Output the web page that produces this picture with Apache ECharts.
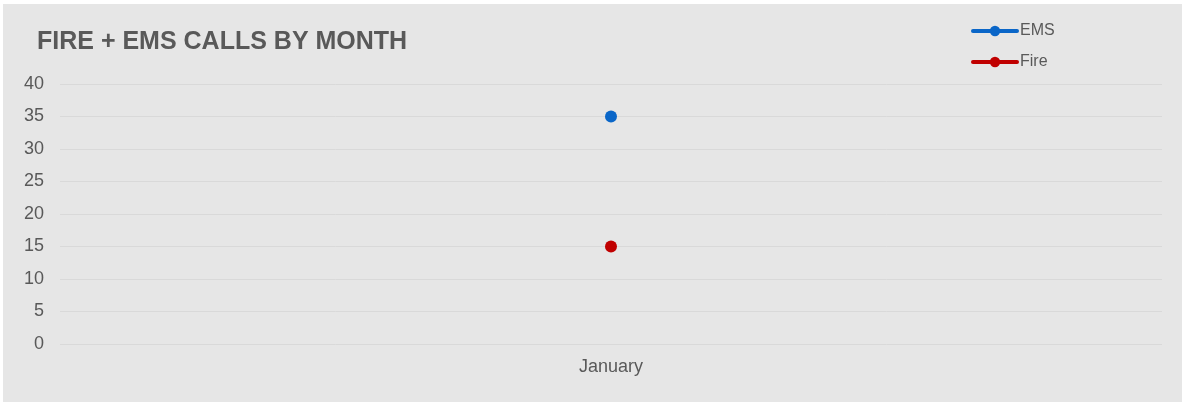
<!DOCTYPE html>
<html>
<head>
<meta charset="utf-8">
<script src="https://cdn.jsdelivr.net/npm/echarts@6/dist/echarts.min.js"></script>
<style>
html,body{margin:0;padding:0;background:#ffffff;width:1182px;height:404px;overflow:hidden;}
#chart{position:absolute;left:3px;top:4px;width:1179px;height:398px;background:#e6e6e6;}
</style>
</head>
<body>
<div id="chart"></div>
<script>
const titleText = 'FIRE + EMS CALLS BY MONTH';
const categories = ['January'];
const emsValues = [35];
const fireValues = [15];
const yTicks = { min: 0, max: 40, interval: 5 };

const chart = echarts.init(document.getElementById('chart'), null, { renderer: 'canvas' });
chart.setOption({
  backgroundColor: '#e6e6e6',
  animation: false,
  title: {
    text: titleText,
    left: 29,
    top: 21,
    textStyle: { fontFamily: 'Liberation Sans, Arial, sans-serif', fontSize: 25, fontWeight: 'bold', color: '#595959' }
  },
  legend: {
    orient: 'vertical',
    left: 963,
    top: 14,
    itemWidth: 44,
    itemHeight: 13,
    itemGap: 15,
    lineStyle: { width: 4, cap: 'round' },
    textStyle: { fontFamily: 'Liberation Sans, Arial, sans-serif', fontSize: 16, color: '#595959', padding: [0, 0, 0, -2] },
    data: ['EMS', 'Fire']
  },
  grid: { left: 57, right: 20, top: 80, bottom: 58, containLabel: false },
  xAxis: {
    type: 'category',
    data: categories,
    boundaryGap: true,
    axisLine: { show: false },
    axisTick: { show: false },
    axisLabel: { fontFamily: 'Liberation Sans, Arial, sans-serif', fontSize: 18, color: '#595959', margin: 14 }
  },
  yAxis: {
    type: 'value',
    min: yTicks.min,
    max: yTicks.max,
    interval: yTicks.interval,
    axisLine: { show: false },
    axisTick: { show: false },
    splitLine: { lineStyle: { color: '#d9d9d9', width: 1 } },
    axisLabel: { fontFamily: 'Liberation Sans, Arial, sans-serif', fontSize: 18, color: '#595959', margin: 16 }
  },
  series: [
    {
      name: 'EMS',
      type: 'line',
      data: emsValues,
      symbol: 'circle',
      symbolSize: 12,
      itemStyle: { color: '#0a66c8' },
      lineStyle: { color: '#0a66c8', width: 4 }
    },
    {
      name: 'Fire',
      type: 'line',
      data: fireValues,
      symbol: 'circle',
      symbolSize: 12,
      itemStyle: { color: '#c00000' },
      lineStyle: { color: '#c00000', width: 4 }
    }
  ]
});
</script>
</body>
</html>
